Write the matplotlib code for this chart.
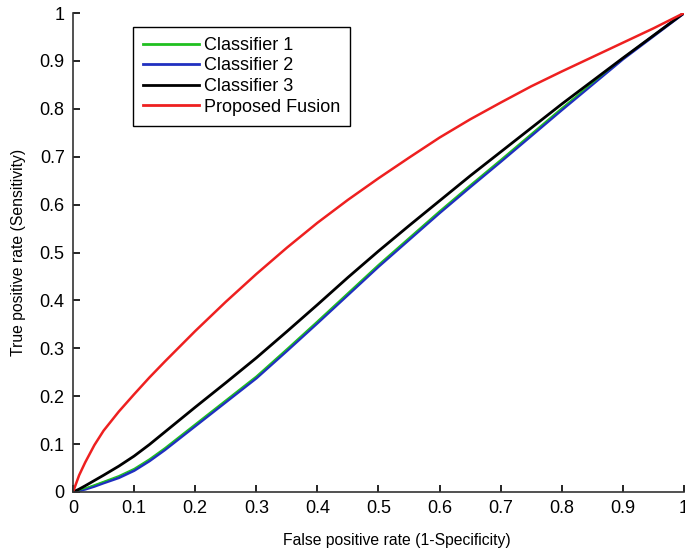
import numpy as np
from matplotlib import pyplot as plt

plt.rcParams['font.family'] = ['Liberation Sans', 'DejaVu Sans']

# false positive rate sample points
fpr = [0, 0.01, 0.02, 0.035, 0.05, 0.075, 0.1, 0.125, 0.15, 0.2, 0.25, 0.3, 0.35, 0.4,
       0.45, 0.5, 0.55, 0.6, 0.65, 0.7, 0.75, 0.8, 0.85, 0.9, 0.95, 1.0]

# true positive rates
tpr_c1 = [0, 0.004, 0.008, 0.015, 0.022, 0.034, 0.049, 0.069, 0.092, 0.142, 0.192, 0.242,
          0.299, 0.357, 0.416, 0.475, 0.531, 0.587, 0.641, 0.694, 0.748, 0.802, 0.854,
          0.906, 0.953, 1.0]
tpr_c2 = [0, 0.003, 0.006, 0.012, 0.019, 0.030, 0.045, 0.065, 0.088, 0.138, 0.188, 0.238,
          0.295, 0.353, 0.412, 0.471, 0.527, 0.583, 0.637, 0.690, 0.744, 0.798, 0.851,
          0.904, 0.952, 1.0]
tpr_c3 = [0, 0.006, 0.013, 0.024, 0.035, 0.054, 0.075, 0.099, 0.125, 0.177, 0.228, 0.280,
          0.335, 0.391, 0.448, 0.503, 0.556, 0.608, 0.660, 0.710, 0.760, 0.810, 0.858,
          0.906, 0.953, 1.0]
tpr_fusion = [0, 0.035, 0.062, 0.098, 0.128, 0.168, 0.204, 0.239, 0.272, 0.336, 0.397,
              0.455, 0.510, 0.562, 0.610, 0.655, 0.698, 0.740, 0.778, 0.813, 0.847, 0.878,
              0.908, 0.938, 0.968, 1.0]

labels = ['Classifier 1', 'Classifier 2', 'Classifier 3', 'Proposed Fusion']
colors = ['#20c020', '#2030c0', 'black', '#ee2020']

fig = plt.figure(figsize=(6.85, 5.52), dpi=100)
ax = fig.add_axes([0.1066, 0.1087, 0.8919, 0.8677])

l2, = ax.plot(fpr, tpr_c2, color=colors[1], lw=2.2)
l1, = ax.plot(fpr, tpr_c1, color=colors[0], lw=1.0)
l3, = ax.plot(fpr, tpr_c3, color=colors[2], lw=2.0)
l4, = ax.plot(fpr, tpr_fusion, color=colors[3], lw=1.8)

ax.set_xlim(0, 1)
ax.set_ylim(0, 1)
ticks = np.round(np.arange(0, 1.01, 0.1), 1)
ticklabels = ['0'] + [f'{t:g}' for t in ticks[1:-1]] + ['1']
ax.set_xticks(ticks)
ax.set_yticks(ticks)
ax.set_xticklabels(ticklabels)
ax.set_yticklabels(ticklabels)
ax.tick_params(direction='in', length=5, labelsize=13, width=1.2, pad=6)
for side in ['top', 'right']:
    ax.spines[side].set_visible(False)
for side in ['left', 'bottom']:
    ax.spines[side].set_linewidth(1.2)
    ax.spines[side].set_color('#333333')

ax.set_xlabel('False positive rate (1-Specificity)', fontsize=11.3)
ax.xaxis.set_label_coords(0.53, -0.085)
ax.set_ylabel('True positive rate (Sensitivity)', fontsize=11.3, labelpad=10)

leg = ax.legend([l1, l2, l3, l4], labels, loc='upper left',
                bbox_to_anchor=(0.098, 0.971), borderaxespad=0, fontsize=13,
                handlelength=3.1, handletextpad=0.3, labelspacing=0.2,
                borderpad=0.55, fancybox=False, framealpha=1, edgecolor='black')
leg.get_frame().set_linewidth(1.0)
for h, c in zip(leg.legend_handles, colors):
    h.set_color(c)
    h.set_linewidth(2)

fig.savefig('out.png', dpi=100)
